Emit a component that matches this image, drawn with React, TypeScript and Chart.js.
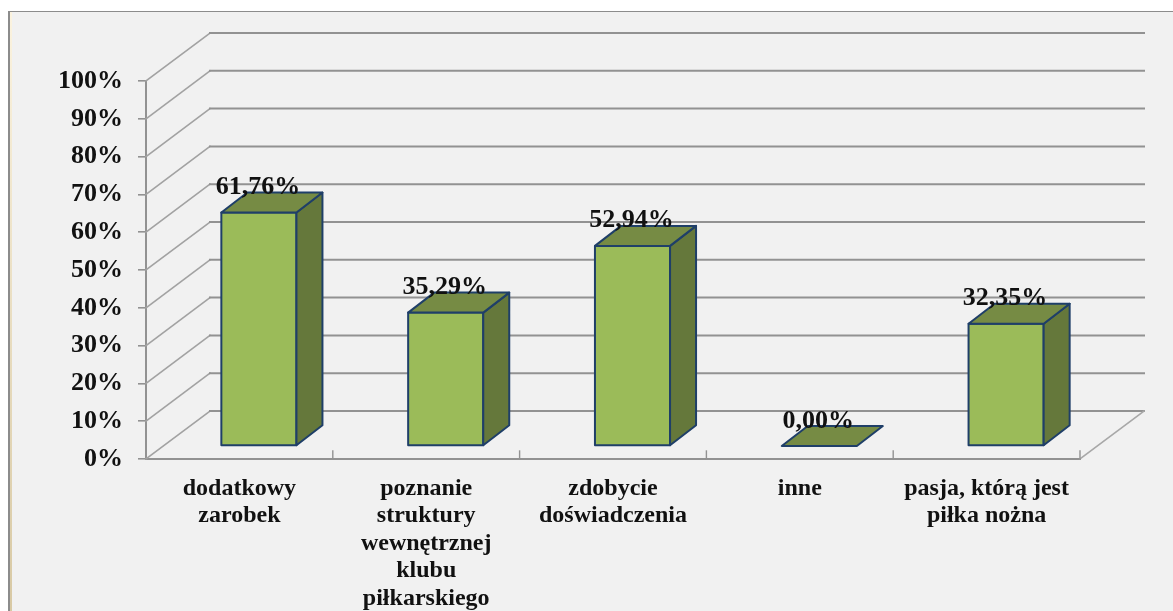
import React, { useEffect, useRef } from "react";
import { Chart, registerables } from "chart.js";

Chart.register(...registerables);

const categories: (string | string[])[] = [
  ["dodatkowy", "zarobek"],
  ["poznanie", "struktury", "wewnętrznej", "klubu", "piłkarskiego"],
  ["zdobycie", "doświadczenia"],
  "inne",
  ["pasja, którą jest", "piłka nożna"],
];
const values = [61.76, 35.29, 52.94, 0, 32.35];
const valueLabels = ["61,76%", "35,29%", "52,94%", "0,00%", "32,35%"];
const yTicksStep = 10;

const SERIF = '"Liberation Serif", "Times New Roman", serif';
const WALL_DX = 64;
const WALL_DY = -48;
const BAR_DX = 19.5;
const BAR_DY = -13;
const DEPTH_DX = 26;
const DEPTH_DY = -20;
const GRID = "#929292";
const OUTLINE = "#1f3f68";

const scenePlugin = {
  id: "scene",
  beforeDraw(chart: any) {
    const { ctx, width, height } = chart;
    ctx.save();
    ctx.fillStyle = "#ffffff";
    ctx.fillRect(0, 0, width, height);
    ctx.fillStyle = "#f1f1f1";
    ctx.fillRect(9, 11, width - 9, height - 11);
    const g = ctx.createLinearGradient(0, 11, 0, height);
    g.addColorStop(0, "#fbf3df");
    g.addColorStop(1, "#d8c9a4");
    ctx.fillStyle = g;
    ctx.fillRect(10, 12, 2, height - 12);
    ctx.fillStyle = "#8c8c8c";
    ctx.fillRect(8, 11, width - 8, 1);
    ctx.fillRect(8, 11, 2, height - 11);
    ctx.restore();
  },
  beforeDatasetsDraw(chart: any) {
    const { ctx, scales, chartArea } = chart;
    const y = scales.y;
    const x = scales.x;
    const left = chartArea.left;
    const right = chartArea.right;
    ctx.save();
    ctx.lineCap = "square";
    // walls and floor lines from the value scale
    y.ticks.forEach((t: any) => {
      const py = y.getPixelForValue(t.value);
      ctx.strokeStyle = "#a2a2a2";
      ctx.lineWidth = 1.6;
      ctx.beginPath();
      ctx.moveTo(left, py);
      ctx.lineTo(left + WALL_DX, py + WALL_DY);
      ctx.stroke();
      ctx.strokeStyle = GRID;
      ctx.lineWidth = 2;
      ctx.beginPath();
      ctx.moveTo(left + WALL_DX, py + WALL_DY);
      ctx.lineTo(right + WALL_DX, py + WALL_DY);
      ctx.stroke();
    });
    const base = y.getPixelForValue(0);
    ctx.strokeStyle = "#a8a8a8";
    ctx.lineWidth = 1.6;
    ctx.beginPath();
    ctx.moveTo(right, base);
    ctx.lineTo(right + WALL_DX, base + WALL_DY);
    ctx.stroke();
    // axis tick marks pointing up into the floor
    ctx.strokeStyle = GRID;
    ctx.lineWidth = 1.4;
    const step = x.width / categories.length;
    for (let i = 1; i <= categories.length; i++) {
      const px = x.getPixelForValue(i - 1) + step / 2;
      ctx.beginPath();
      ctx.moveTo(px, base);
      ctx.lineTo(px, base - 8);
      ctx.stroke();
    }
    ctx.restore();
  },
  beforeDatasetDraw(chart: any) {
    chart.ctx.save();
    chart.ctx.translate(BAR_DX, BAR_DY);
  },
  afterDatasetDraw(chart: any) {
    const { ctx } = chart;
    const meta = chart.getDatasetMeta(0);
    ctx.lineWidth = 2;
    ctx.lineJoin = "round";
    ctx.strokeStyle = OUTLINE;
    meta.data.forEach((bar: any) => {
      const l = bar.x - bar.width / 2;
      const r = bar.x + bar.width / 2;
      const t = bar.y;
      const b = bar.base;
      if (b - t > 0.5) {
        ctx.strokeRect(l, t, r - l, b - t);
        ctx.fillStyle = "#65783b";
        ctx.beginPath();
        ctx.moveTo(r, t);
        ctx.lineTo(r + DEPTH_DX, t + DEPTH_DY);
        ctx.lineTo(r + DEPTH_DX, b + DEPTH_DY);
        ctx.lineTo(r, b);
        ctx.closePath();
        ctx.fill();
        ctx.stroke();
      }
      ctx.fillStyle = "#768b44";
      ctx.beginPath();
      ctx.moveTo(l, t);
      ctx.lineTo(r, t);
      ctx.lineTo(r + DEPTH_DX, t + DEPTH_DY);
      ctx.lineTo(l + DEPTH_DX, t + DEPTH_DY);
      ctx.closePath();
      ctx.fill();
      ctx.stroke();
    });
    ctx.restore();
  },
  afterDatasetsDraw(chart: any) {
    const { ctx } = chart;
    const meta = chart.getDatasetMeta(0);
    ctx.save();
    ctx.fillStyle = "#111111";
    ctx.font = `bold 26px ${SERIF}`;
    ctx.textAlign = "center";
    ctx.textBaseline = "alphabetic";
    meta.data.forEach((bar: any, i: number) => {
      ctx.fillText(valueLabels[i], bar.x + BAR_DX - 1, bar.y + BAR_DY - 18.5);
    });
    ctx.restore();
  },
};

export default function App() {
  const ref = useRef<HTMLCanvasElement>(null);
  useEffect(() => {
    const chart = new Chart(ref.current as HTMLCanvasElement, {
      type: "bar",
      plugins: [scenePlugin],
      data: {
        labels: categories as any,
        datasets: [
          {
            data: values,
            backgroundColor: "#9bbb59",
            borderWidth: 0,
            barPercentage: 0.402,
            categoryPercentage: 1,
            clip: false as any,
          },
        ],
      },
      options: {
        responsive: false,
        animation: false,
        devicePixelRatio: 1,
        layout: { padding: { top: 81, right: 93, left: 0, bottom: 0 } },
        plugins: { legend: { display: false }, tooltip: { enabled: false }, title: { display: false } },
        scales: {
          x: {
            afterFit: (s: any) => {
              s.height = 152;
            },
            grid: { display: true, drawOnChartArea: false, drawTicks: false, color: "transparent" },
            border: { display: true, color: GRID, width: 2 },
            ticks: {
              color: "#111111",
              padding: 16,
              maxRotation: 0,
              minRotation: 0,
              autoSkip: false,
              font: { family: SERIF, weight: "bold", size: 24, lineHeight: 1.146 },
            },
          },
          y: {
            min: 0,
            max: 100,
            afterFit: (s: any) => {
              s.width = 146;
            },
            grid: { display: true, drawOnChartArea: false, drawTicks: true, tickLength: 8, color: GRID, lineWidth: 1.6 },
            border: { display: true, color: GRID, width: 2 },
            ticks: {
              stepSize: yTicksStep,
              color: "#111111",
              padding: 15,
              font: { family: SERIF, weight: "bold", size: 26 },
              callback: (v: any) => `${v}%`,
            },
          },
        },
      },
    });
    return () => chart.destroy();
  }, []);
  return (
    <div style={{ position: "fixed", left: 0, top: 0, width: 1173, height: 611 }}>
      <canvas ref={ref} width={1173} height={611} style={{ display: "block" }} />
    </div>
  );
}
